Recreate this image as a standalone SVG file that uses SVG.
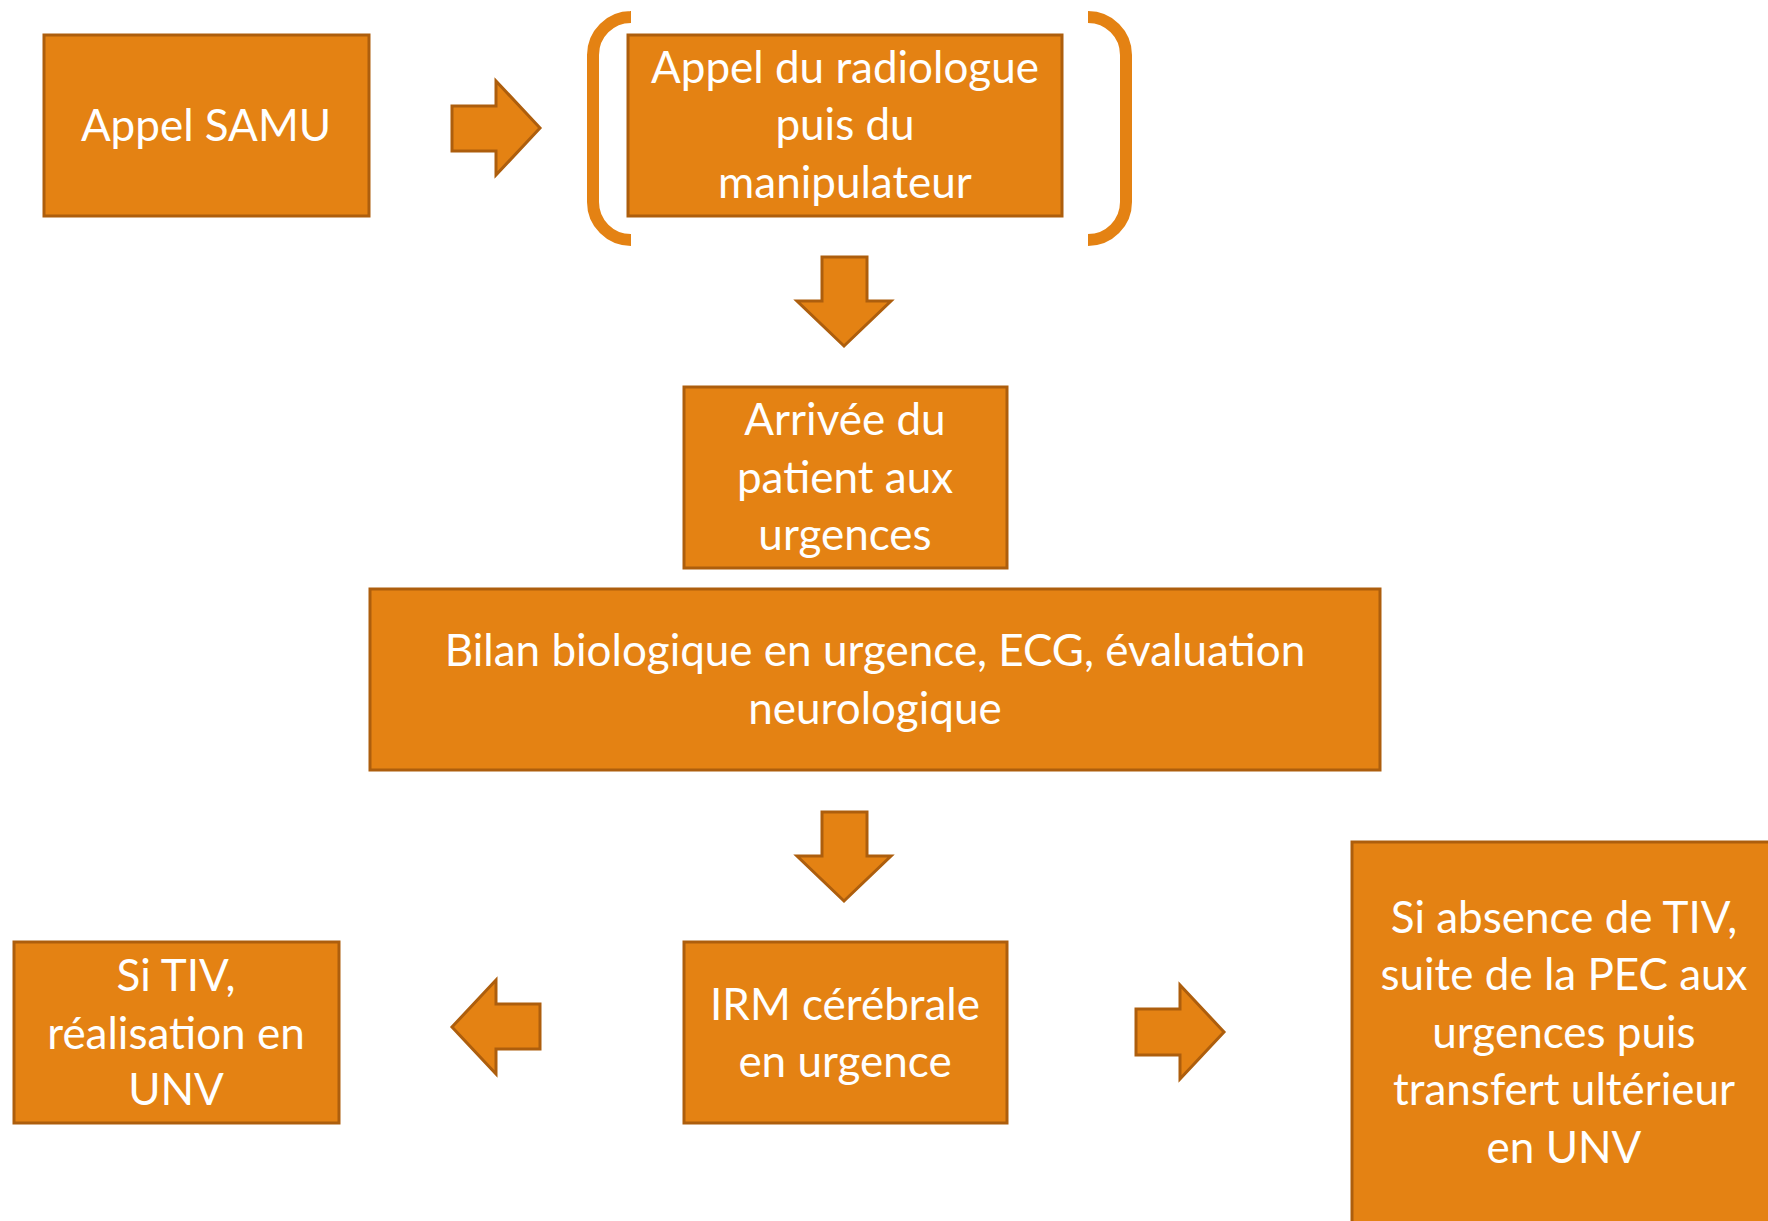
<svg xmlns="http://www.w3.org/2000/svg" width="1768" height="1221" viewBox="0 0 1768 1221">
<defs>
<style>
.box{fill:#E48213;stroke:#AD5E0D;stroke-width:3}
.arrow{fill:#E48213;stroke:#AD5E0D;stroke-width:3;stroke-linejoin:miter}
.bracket{fill:none;stroke:#E48213;stroke-width:12;stroke-linecap:butt}
.t{font-family:Lato,"Open Sans","Liberation Sans",sans-serif;font-size:44px;fill:#FFFFFF;text-anchor:middle}
</style>
</defs>
<rect width="1768" height="1221" fill="#FFFFFF"/>
<g id="connectors">
<polygon class="arrow" points="452,106 496,106 496,81 540,128 496,175 496,151 452,151"/>
<polygon class="arrow" points="822,257 867,257 867,301 891,301 844,346 797,301 822,301"/>
<polygon class="arrow" points="822,812 867,812 867,856 891,856 844,901 797,856 822,856"/>
<polygon class="arrow" points="540,1004 496,1004 496,980 452,1027 496,1074 496,1049 540,1049"/>
<polygon class="arrow" points="1136,1009 1180,1009 1180,985 1224,1032 1180,1079 1180,1055 1136,1055"/>
</g>
<g id="node-samu">
<rect class="box" x="44" y="35" width="325" height="181"/>
<text class="t" x="206" y="141">Appel SAMU</text>
</g>
<g id="node-radiologue">
<path class="bracket" d="M630,17 H631 A38,38 0 0 0 593,55 V202 A38,38 0 0 0 631,240 H630"/>
<path class="bracket" d="M1088,17 A38,38 0 0 1 1126,55 V202 A38,38 0 0 1 1088,240"/>
<rect class="box" x="628" y="35" width="434" height="181"/>
<text class="t" x="845" y="83">Appel du radiologue</text>
<text class="t" x="845" y="140">puis du</text>
<text class="t" x="845" y="198">manipulateur</text>
</g>
<g id="node-arrivee">
<rect class="box" x="684" y="387" width="323" height="181"/>
<text class="t" x="845" y="435">Arrivée du</text>
<text class="t" x="845" y="493">patient aux</text>
<text class="t" x="845" y="550">urgences</text>
</g>
<g id="node-bilan">
<rect class="box" x="370" y="589" width="1010" height="181"/>
<text class="t" x="875" y="666">Bilan biologique en urgence, ECG, évaluation</text>
<text class="t" x="875" y="724">neurologique</text>
</g>
<g id="node-tiv">
<rect class="box" x="14" y="942" width="325" height="181"/>
<text class="t" x="176" y="991">Si TIV,</text>
<text class="t" x="176" y="1049">réalisation en</text>
<text class="t" x="176" y="1105">UNV</text>
</g>
<g id="node-irm">
<rect class="box" x="684" y="942" width="323" height="181"/>
<text class="t" x="845" y="1020">IRM cérébrale</text>
<text class="t" x="845" y="1077">en urgence</text>
</g>
<g id="node-absence">
<rect class="box" x="1352" y="842" width="500" height="500"/>
<text class="t" x="1564" y="933">Si absence de TIV,</text>
<text class="t" x="1564" y="990">suite de la PEC aux</text>
<text class="t" x="1564" y="1048">urgences puis</text>
<text class="t" x="1564" y="1105">transfert ultérieur</text>
<text class="t" x="1564" y="1163">en UNV</text>
</g>
</svg>
